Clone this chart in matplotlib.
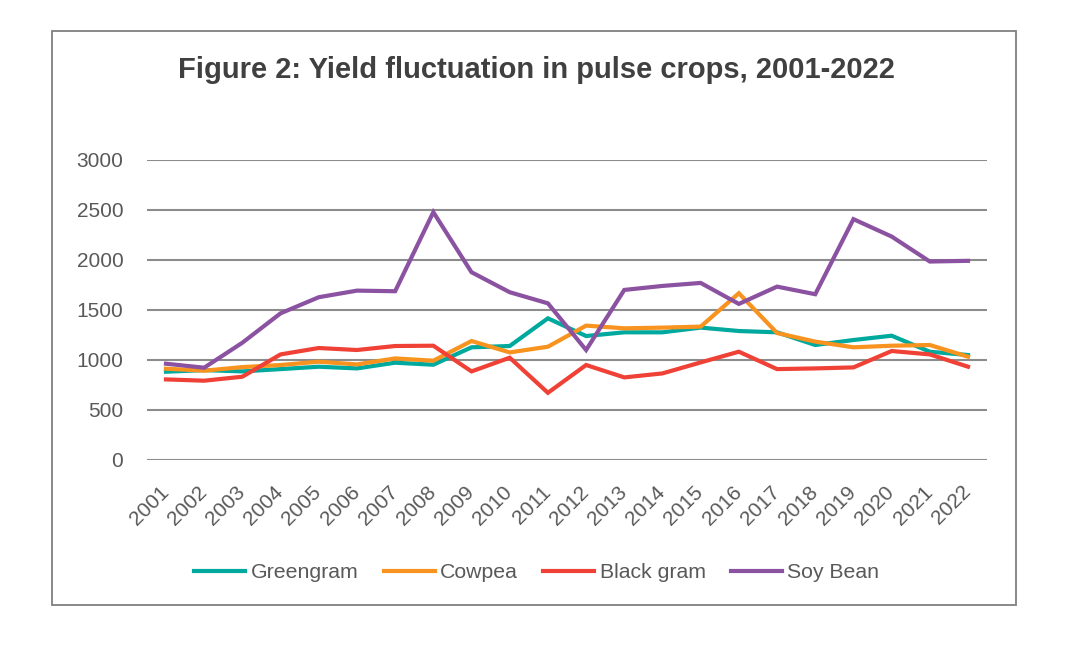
import matplotlib.pyplot as plt
import matplotlib.transforms as mtransforms
import numpy as np
from matplotlib.patches import Rectangle

plt.rcParams['font.family'] = ['Liberation Sans', 'DejaVu Sans']

years = [str(y) for y in range(2001, 2023)]
greengram = [882, 898, 885, 908, 932, 915, 972, 952, 1126, 1139, 1416,
             1239, 1276, 1276, 1323, 1289, 1276, 1149, 1199, 1242, 1082, 1049]
cowpea = [912, 892, 928, 949, 982, 955, 1015, 992, 1189, 1075, 1132,
          1343, 1316, 1323, 1333, 1667, 1269, 1183, 1126, 1142, 1149, 1032]
black_gram = [805, 792, 832, 1055, 1119, 1099, 1139, 1142, 885, 1022, 671,
              949, 825, 865, 975, 1082, 908, 915, 925, 1089, 1055, 932]
soy_bean = [962, 922, 1172, 1466, 1627, 1693, 1687, 2478, 1877, 1677, 1566,
            1099, 1700, 1740, 1770, 1560, 1733, 1657, 2408, 2234, 1984, 1991]

series = [('Greengram', greengram, '#00A99D'),
          ('Cowpea', cowpea, '#F7931E'),
          ('Black gram', black_gram, '#EF4136'),
          ('Soy Bean', soy_bean, '#8B52A1')]

fig = plt.figure(figsize=(10.8, 6.45), dpi=100)
ax = fig.add_axes([0.136, 0.287, 0.778, 0.465])

x = np.arange(len(years))
for name, vals, col in series:
    ax.plot(x, vals, color=col, lw=3.0, label=name, solid_joinstyle='miter')

ax.set_xlim(-0.5, len(years) - 0.5)
ax.set_ylim(0, 3000)
ax.set_yticks(range(0, 3001, 500))
ax.set_xticks(x)
ax.set_xticklabels(years, rotation=45, ha='right', rotation_mode='anchor')
ax.tick_params(axis='both', length=0, labelsize=15, colors='#595959')
ax.tick_params(axis='y', pad=17)
ax.tick_params(axis='x', pad=16)
# nudge rotated year labels a little to the left
shift = mtransforms.ScaledTranslation(-5 / 72, 0, fig.dpi_scale_trans)
for lab in ax.get_xticklabels():
    lab.set_transform(lab.get_transform() + shift)
ax.grid(axis='y', color='#8c8c8c', lw=1.5)
ax.set_axisbelow(True)
for s in ax.spines.values():
    s.set_visible(False)

fig.text(0.497, 0.891, 'Figure 2: Yield fluctuation in pulse crops, 2001-2022',
         ha='center', va='center', fontsize=21, fontweight='bold', color='#404040')

fig.legend(loc='center', bbox_to_anchor=(0.497, 0.112), ncol=4, frameon=False,
           fontsize=15.3, handlelength=2.4, columnspacing=1.2, handletextpad=0.25,
           labelcolor='#595959')

fig.patches.append(Rectangle((52 / 1080, 1 - 605 / 645), 964 / 1080, 574 / 645,
                             transform=fig.transFigure, fill=False,
                             edgecolor='#808080', lw=1.3))

fig.savefig('out.png', dpi=100)
